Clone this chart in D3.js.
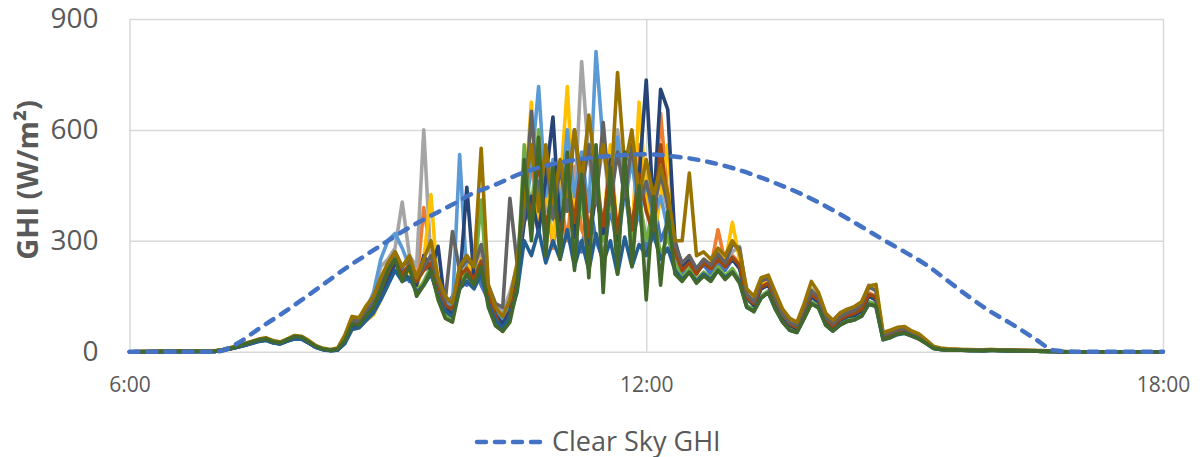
<!DOCTYPE html>
<html>
<head>
<meta charset="utf-8">
<script src="https://cdn.jsdelivr.net/npm/d3@7"></script>
<style>
  body { margin: 0; background: #fff; }
  text { font-family: "Open Sans", sans-serif; fill: #595959; }
</style>
</head>
<body>
<svg id="chart" width="1200" height="457"></svg>
<script>
// tick values
const yTicks = [0, 300, 600, 900];
const xTicks = [6, 12, 18];

// measured GHI, 5-minute steps from 7:00 to 16:55 (W/m2)
const ghi1 = [1,4,8,12,18,24,30,34,26,22,30,38,
  36,24,12,6,3,5,30,72,70,95,120,160,
  200,260,230,190,210,240,220,170,120,150,210,180,
  230,180,140,90,70,130,210,420,330,460,300,380,
  290,450,320,270,420,300,250,390,280,440,300,380,
  270,420,300,350,240,210,250,215,235,210,240,220,
  250,230,150,125,175,185,135,95,70,60,105,150,
  130,85,65,85,95,100,115,150,140,38,45,55,
  58,48,40,25,10,6,5,5,4,4,4,3,
  4,4,3,3,3,2,2,2,1,1,0,0];
const ghi2 = [2,5,9,14,20,26,32,36,28,24,33,40,
  38,26,14,7,4,7,34,80,78,105,125,165,
  210,240,200,230,180,390,260,180,130,115,200,230,
  190,240,160,100,60,110,190,450,520,330,470,280,
  420,300,500,330,280,460,300,420,290,470,320,560,
  400,330,645,420,270,220,240,210,245,230,330,240,
  260,240,145,130,180,190,140,100,75,65,110,160,
  145,90,70,90,100,105,120,160,150,40,48,58,
  62,50,42,28,12,8,6,5,5,5,4,4,
  5,4,4,3,3,3,2,2,2,1,0,0];
const ghi3 = [1,4,8,13,18,24,30,33,26,23,31,37,
  36,25,13,6,4,8,40,95,90,120,150,230,
  250,280,405,260,230,600,240,190,150,130,230,260,
  220,270,170,120,110,160,230,480,400,560,380,470,
  350,520,400,785,520,430,560,380,600,460,520,380,
  480,400,460,380,280,235,255,225,250,235,265,245,
  270,285,160,140,195,205,150,105,80,75,120,170,
  150,95,80,100,110,115,130,180,165,45,52,62,
  64,52,44,30,13,8,6,6,5,5,5,4,
  5,5,4,4,3,3,3,2,2,1,0,0];
const ghi4 = [2,5,9,14,19,25,31,35,27,23,32,39,
  37,25,13,7,4,6,25,60,65,85,100,140,
  180,230,200,220,170,250,425,170,120,110,200,240,
  210,250,150,95,75,100,170,400,675,340,450,300,
  440,717,360,500,300,470,330,560,320,480,300,675,
  430,300,420,560,290,230,260,220,250,235,270,240,
  350,250,150,135,185,200,145,100,78,70,115,165,
  150,92,75,92,105,110,125,170,180,42,50,60,
  65,52,44,30,13,9,7,6,6,5,5,5,
  6,5,5,4,4,3,3,2,2,1,0,0];
const ghi5 = [1,4,8,13,18,23,29,32,25,22,30,36,
  35,24,12,6,3,6,38,88,85,115,160,250,
  300,320,280,230,200,240,210,180,130,120,533,200,
  220,240,140,110,90,130,210,360,500,717,420,520,
  380,600,420,540,380,812,560,420,580,400,520,360,
  460,360,420,330,260,220,240,215,240,225,250,230,
  255,230,140,128,170,185,135,95,72,65,105,150,
  135,85,68,85,95,100,112,150,145,38,46,55,
  58,48,40,26,11,7,5,5,5,4,4,4,
  5,4,4,3,3,3,2,2,1,1,0,0];
const ghi6 = [2,5,9,13,19,25,30,34,27,24,33,40,
  38,25,13,7,4,7,32,78,75,100,125,175,
  230,260,200,240,160,190,230,150,100,90,180,220,
  190,410,130,80,60,90,180,560,350,600,300,420,
  330,480,290,420,260,520,300,430,270,500,280,420,
  300,380,260,310,240,200,225,195,215,200,230,205,
  225,195,125,115,150,165,120,85,62,55,95,135,
  125,78,60,78,88,92,100,135,130,34,40,50,
  52,44,36,24,10,6,5,4,4,4,3,3,
  4,4,3,3,2,2,2,1,1,1,0,0];
const ghi7 = [1,3,7,12,17,22,28,31,24,21,29,35,
  34,23,12,6,3,5,26,68,70,92,115,150,
  190,240,210,200,180,260,220,285,120,100,190,445,
  200,230,150,100,75,110,190,350,420,320,470,635,
  330,460,310,500,290,430,320,520,300,450,330,470,
  735,380,710,655,300,230,250,215,240,225,255,230,
  250,225,145,125,170,180,135,95,72,62,105,150,
  135,85,68,85,95,98,110,150,140,38,46,55,
  58,48,40,26,10,7,5,5,4,4,4,3,
  4,4,3,3,3,2,2,2,1,1,0,0];
const ghi8 = [2,5,9,14,20,26,31,35,27,24,32,39,
  37,25,13,7,4,7,33,80,76,102,125,165,
  215,250,210,235,190,220,240,175,125,115,205,225,
  195,245,150,95,55,100,180,470,360,520,330,450,
  300,470,350,520,310,460,340,500,320,460,330,480,
  380,320,560,400,270,220,240,210,240,225,250,230,
  255,235,145,130,175,185,140,100,75,65,110,155,
  140,88,70,88,98,104,115,155,148,40,48,56,
  60,49,42,27,11,8,6,5,5,4,4,4,
  5,4,4,3,3,3,2,2,2,1,0,0];
const ghi9 = [1,4,8,13,19,24,30,33,26,23,31,38,
  36,25,13,6,4,7,35,85,82,110,135,180,
  235,270,230,250,200,230,260,190,140,325,220,250,
  230,290,180,130,120,415,240,370,650,400,540,360,
  500,380,600,430,560,400,620,400,540,420,560,400,
  460,380,480,400,290,240,260,225,250,235,265,240,
  290,280,155,135,190,200,145,102,78,72,118,165,
  148,92,76,95,105,112,128,175,165,44,52,60,
  62,51,43,29,12,8,6,6,5,5,5,4,
  5,5,4,4,3,3,3,2,2,1,0,0];
const ghi10 = [3,6,11,16,22,28,34,38,30,26,35,44,
  42,30,16,9,6,10,45,95,92,125,150,200,
  240,270,230,260,200,250,300,200,150,130,230,260,
  230,550,180,120,95,140,240,430,560,380,560,400,
  520,420,600,460,640,480,560,420,755,500,600,420,
  520,420,500,430,300,300,483,260,270,250,280,260,
  300,270,170,150,200,207,160,115,90,80,130,190,
  160,105,85,105,115,122,135,178,182,52,58,66,
  68,56,48,32,15,10,8,7,6,6,5,5,
  6,5,5,4,4,3,3,3,2,2,1,0];
const ghi11 = [1,4,8,12,17,23,28,31,24,21,29,35,
  34,23,11,5,3,4,22,60,65,85,105,140,
  180,220,190,200,160,180,210,150,110,95,170,190,
  170,210,130,85,65,95,160,300,260,330,240,300,
  250,330,230,300,220,320,240,300,210,310,230,290,
  260,320,250,280,220,195,215,190,210,195,220,200,
  215,190,120,110,145,160,115,80,58,52,90,130,
  120,72,56,72,82,86,96,128,122,32,38,46,
  50,42,35,22,9,6,4,4,4,3,3,3,
  4,3,3,3,2,2,2,1,1,1,0,0];
const ghi12 = [2,5,9,14,20,26,32,35,27,24,33,41,
  39,26,14,7,4,7,30,75,72,98,120,165,
  220,250,190,230,150,180,220,140,90,80,170,210,
  180,230,120,70,55,80,170,520,300,580,260,500,
  250,540,220,480,200,560,160,500,210,540,230,450,
  140,420,180,380,210,190,215,185,205,190,220,195,
  215,185,120,108,145,160,115,80,58,52,90,130,
  118,72,56,72,82,86,96,128,124,33,38,48,
  50,42,34,22,9,6,4,4,4,3,3,3,
  4,3,3,3,2,2,2,1,1,1,0,0];

// clear sky GHI, 15-minute steps from 6:00 to 18:00
const clearSky = [0,0,0,0,0, 22,62,100,
  140,182,224,262, 300,336,368,398,
  430,452,478,498, 512,521,528,532,
  534,530,523,512, 497,478,456,432,
  404,372,338,303, 270,235,192,148,
  108,74,37,3, 0,0,0,0,0];

const seriesColors = ['#4472C4', '#ED7D31', '#A5A5A5', '#FFC000', '#5B9BD5', '#70AD47',
  '#264478', '#9E480E', '#636363', '#997300', '#255E91', '#43682B'];
const measured = [ghi1, ghi2, ghi3, ghi4, ghi5, ghi6, ghi7, ghi8, ghi9, ghi10, ghi11, ghi12];

const svg = d3.select('#chart');
const plot = { left: 129.5, right: 1163, top: 19, bottom: 351.7 };

const x = d3.scaleLinear().domain([6, 18]).range([plot.left, plot.right]);
const y = d3.scaleLinear().domain([0, 900]).range([plot.bottom, plot.top]);

// gridlines + tick labels
const yAxis = svg.append('g')
  .attr('transform', `translate(${plot.left},0)`)
  .call(d3.axisLeft(y).tickValues(yTicks).tickSize(-(plot.right - plot.left)).tickPadding(31));
yAxis.select('.domain').remove();
yAxis.selectAll('line').attr('stroke', '#d9d9d9').attr('stroke-width', 1.5);
yAxis.selectAll('text').style('font-size', '28px').attr('fill', '#595959');

const xAxis = svg.append('g')
  .attr('transform', `translate(0,${plot.bottom})`)
  .call(d3.axisBottom(x).tickValues(xTicks).tickSize(-(plot.bottom - plot.top))
    .tickPadding(25).tickFormat(d => `${d}:00`));
xAxis.select('.domain').remove();
xAxis.selectAll('line').attr('stroke', '#d9d9d9').attr('stroke-width', 1.5);
xAxis.selectAll('text').style('font-size', '21px').attr('fill', '#595959');

// measured lines
const stepTimes = d3.range(120).map(i => 7 + i * 5 / 60);
const line = d3.line().x(d => x(d[0])).y(d => y(d[1]));

svg.append('g')
  .selectAll('path')
  .data(measured)
  .join('path')
    .attr('fill', 'none')
    .attr('stroke', (d, i) => seriesColors[i])
    .attr('stroke-width', 3.6)
    .attr('stroke-linejoin', 'round')
    .attr('stroke-linecap', 'round')
    .attr('d', s => line([[6, 0], ...stepTimes.map((t, i) => [t, s[i]]), [18, 0]]));

// clear sky
const clearTimes = d3.range(49).map(i => 6 + i * 0.25);
svg.append('path')
  .datum(clearSky.map((v, i) => [clearTimes[i], v]))
  .attr('fill', 'none')
  .attr('stroke', '#4472C4')
  .attr('stroke-width', 4.5)
  .attr('stroke-linecap', 'round')
  .attr('stroke-dasharray', '9,9')
  .attr('d', d3.line().curve(d3.curveMonotoneX).x(d => x(d[0])).y(d => y(d[1])));

// axis title
svg.append('text')
  .attr('transform', 'translate(38,180)rotate(-90)')
  .attr('text-anchor', 'middle')
  .style('font-size', '29px')
  .style('font-weight', 'bold')
  .text('GHI (W/m²)');

// legend
svg.append('line')
  .attr('x1', 477).attr('x2', 543)
  .attr('y1', 442).attr('y2', 442)
  .attr('stroke', '#4472C4')
  .attr('stroke-width', 4.5)
  .attr('stroke-linecap', 'round')
  .attr('stroke-dasharray', '9,9');

svg.append('text')
  .attr('x', 552)
  .attr('y', 451)
  .style('font-size', '27px')
  .text('Clear Sky GHI');
</script>
</body>
</html>
